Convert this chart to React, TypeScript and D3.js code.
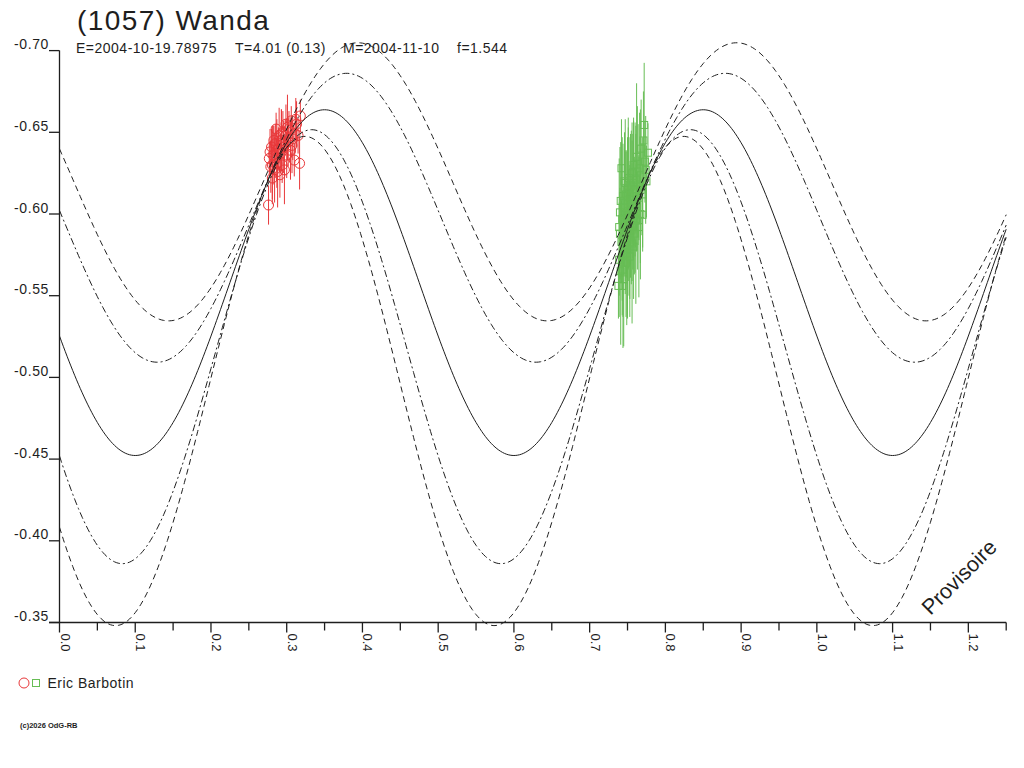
import React from "react";
import * as d3 from "d3";

// ---- Data ----
const title = "(1057) Wanda";
const subtitleParts = ["E=2004-10-19.78975", "T=4.01 (0.13)", "M=2004-11-10", "f=1.544"];
const observer = "Eric Barbotin";
const copyright = "(c)2026 OdG-RB";
const watermark = "Provisoire";

const yTicks = [-0.70, -0.65, -0.60, -0.55, -0.50, -0.45, -0.40, -0.35];
const xMinorTicks = [0, 0.05, 0.1, 0.15, 0.2, 0.25, 0.3, 0.35, 0.4, 0.45, 0.5, 0.55, 0.6, 0.65, 0.7, 0.75, 0.8, 0.85, 0.9, 0.95, 1.0, 1.05, 1.1, 1.15, 1.2, 1.25];
const xLabelTicks = [0, 0.1, 0.2, 0.3, 0.4, 0.5, 0.6, 0.7, 0.8, 0.9, 1.0, 1.1, 1.2];

// model curves (period 0.5 in phase): mean, semi-amplitude, phase of faintest point
const curveNames = ["model", "dashdotUpper", "dashUpper", "dashdotLower", "dashLower"];
const curveMean = [-0.558, -0.5977, -0.6197, -0.5188, -0.4978];
const curveAmp = [0.1058, 0.0884, 0.0851, 0.1328, 0.1497];
const curveMinPhase = [0.100, 0.129, 0.144, 0.083, 0.074];
const curveKind = ["solid", "dashdot", "dash", "dashdot", "dash"];

// red session (circles)
const redPhase = [0.276, 0.277, 0.278, 0.279, 0.280, 0.281, 0.282, 0.283, 0.284, 0.285, 0.286, 0.287, 0.288, 0.289, 0.290, 0.291, 0.292, 0.293, 0.294, 0.295, 0.296, 0.297, 0.298, 0.299, 0.300, 0.302, 0.303, 0.305, 0.306, 0.308, 0.310, 0.311, 0.313, 0.315, 0.317, 0.318, 0.281, 0.287, 0.293, 0.301, 0.307, 0.312];
const redMag = [-0.6055, -0.634, -0.638, -0.629, -0.641, -0.622, -0.636, -0.645, -0.627, -0.643, -0.652, -0.631, -0.626, -0.640, -0.648, -0.624, -0.637, -0.645, -0.630, -0.650, -0.641, -0.627, -0.648, -0.655, -0.636, -0.644, -0.652, -0.639, -0.657, -0.646, -0.633, -0.649, -0.655, -0.648, -0.631, -0.660, -0.630, -0.639, -0.649, -0.653, -0.642, -0.658];
const redErr = [0.012, 0.010, 0.014, 0.016, 0.011, 0.013, 0.018, 0.009, 0.020, 0.012, 0.010, 0.015, 0.022, 0.013, 0.017, 0.014, 0.012, 0.019, 0.011, 0.013, 0.016, 0.021, 0.010, 0.012, 0.014, 0.015, 0.011, 0.018, 0.009, 0.013, 0.010, 0.012, 0.014, 0.011, 0.016, 0.010, 0.024, 0.019, 0.015, 0.020, 0.017, 0.013];

// green session (squares)
const greenPhase = [0.738, 0.739, 0.740, 0.740, 0.741, 0.742, 0.742, 0.743, 0.743, 0.744, 0.744, 0.745, 0.745, 0.746, 0.746, 0.747, 0.747, 0.748, 0.748, 0.749, 0.749, 0.750, 0.750, 0.751, 0.751, 0.752, 0.752, 0.753, 0.753, 0.754, 0.754, 0.755, 0.755, 0.756, 0.756, 0.757, 0.757, 0.758, 0.758, 0.759, 0.760, 0.760, 0.761, 0.762, 0.762, 0.763, 0.764, 0.765, 0.766, 0.767, 0.768, 0.769, 0.770, 0.772, 0.773, 0.775, 0.777, 0.739, 0.741, 0.744, 0.747, 0.749, 0.751, 0.753, 0.756, 0.758, 0.761, 0.763, 0.765, 0.767, 0.770, 0.771, 0.774];
const greenMag = [-0.556, -0.572, -0.588, -0.601, -0.565, -0.628, -0.583, -0.556, -0.597, -0.611, -0.575, -0.590, -0.560, -0.604, -0.620, -0.581, -0.595, -0.612, -0.570, -0.600, -0.587, -0.616, -0.578, -0.594, -0.606, -0.585, -0.622, -0.598, -0.574, -0.609, -0.590, -0.617, -0.583, -0.602, -0.625, -0.593, -0.611, -0.580, -0.630, -0.599, -0.615, -0.588, -0.621, -0.605, -0.635, -0.596, -0.618, -0.610, -0.628, -0.600, -0.640, -0.615, -0.5995, -0.6545, -0.632, -0.620, -0.6375, -0.592, -0.608, -0.566, -0.619, -0.576, -0.613, -0.589, -0.582, -0.619, -0.597, -0.626, -0.592, -0.617, -0.612, -0.645, -0.627];
const greenErr = [0.020, 0.035, 0.028, 0.040, 0.045, 0.030, 0.025, 0.018, 0.050, 0.032, 0.038, 0.027, 0.041, 0.036, 0.030, 0.022, 0.044, 0.026, 0.033, 0.039, 0.024, 0.031, 0.042, 0.028, 0.047, 0.035, 0.025, 0.030, 0.037, 0.040, 0.029, 0.034, 0.026, 0.043, 0.031, 0.027, 0.038, 0.032, 0.029, 0.036, 0.041, 0.024, 0.033, 0.028, 0.045, 0.030, 0.037, 0.026, 0.034, 0.040, 0.030, 0.028, 0.020, 0.038, 0.025, 0.022, 0.018, 0.042, 0.036, 0.048, 0.039, 0.044, 0.046, 0.041, 0.049, 0.038, 0.052, 0.040, 0.043, 0.047, 0.035, 0.030, 0.033];

const RED = "#e8383a";
const GREEN = "#67bd55";
const INK = "#1e1e1e";
const FONT = "'Liberation Sans', Arial, sans-serif";

const fmtY = (v: number) => d3.format(".2f")(v).replace("\u2212", "-");
const fmtX = (v: number) => d3.format(".1f")(v);

export default function App() {
  const x = d3.scaleLinear().domain([0, 1.25]).range([59.5, 1006.2]);
  const y = d3.scaleLinear().domain([-0.70, -0.35]).range([50.6, 622.5]);
  const x0 = x(0);
  const yBottom = y(-0.35);

  const samples = d3.range(0, 1.25 + 1e-9, 0.0025);

  const curvePaths = curveNames.map((name, i) => {
    const gen = d3
      .line<number>()
      .x((p) => x(p))
      .y((p) => y(curveMean[i] + curveAmp[i] * Math.cos((2 * Math.PI * (p - curveMinPhase[i])) / 0.5)));
    return { name, d: gen(samples) || "", kind: curveKind[i] };
  });

  const dashFor = (k: string) => (k === "dash" ? "6,4" : k === "dashdot" ? "7,3,2,3" : undefined);

  const subX = [76, 235, 343, 457];

  return (
    <svg
      width={1024}
      height={768}
      style={{ position: "fixed", left: 0, top: 0, background: "#fff" }}
      fontFamily={FONT}
    >
      <rect x={0} y={0} width={1024} height={768} fill="#fff" />
      {/* title */}
      <text x={77} y={30} fontSize={28} fill={INK} letterSpacing={1.4}>
        {title}
      </text>
      {subtitleParts.map((s, i) => (
        <text key={s} x={subX[i]} y={53} fontSize={14} fill={INK} letterSpacing={0.5}>
          {s}
        </text>
      ))}

      {/* data: red */}
      <g stroke={RED} fill="none" strokeWidth={1}>
        {redPhase.map((p, i) => (
          <line key={"re" + i} x1={x(p)} x2={x(p)} y1={y(redMag[i] - redErr[i])} y2={y(redMag[i] + redErr[i])} />
        ))}
        {redPhase.map((p, i) => (
          <circle key={"rc" + i} cx={x(p)} cy={y(redMag[i])} r={5} />
        ))}
      </g>
      {/* data: green */}
      <g stroke={GREEN} fill="none" strokeWidth={1}>
        {greenPhase.map((p, i) => (
          <line key={"ge" + i} x1={x(p)} x2={x(p)} y1={y(greenMag[i] - greenErr[i])} y2={y(greenMag[i] + greenErr[i])} />
        ))}
        {greenPhase.map((p, i) => (
          <rect key={"gs" + i} x={x(p) - 3.5} y={y(greenMag[i]) - 3.5} width={7} height={7} />
        ))}
      </g>

      {/* model curves */}
      <g fill="none" stroke={INK} strokeWidth={1}>
        {curvePaths.map((c) => (
          <path key={c.name} d={c.d} strokeDasharray={dashFor(c.kind)} />
        ))}
      </g>

      {/* axes */}
      <g stroke={INK} strokeWidth={1.3} fill="none">
        <line x1={x0} x2={x0} y1={y(-0.70)} y2={yBottom} />
        <line x1={49} x2={x(1.25)} y1={yBottom} y2={yBottom} />
        {yTicks.map((t) => (
          <line key={"yt" + t} x1={49} x2={x0} y1={y(t)} y2={y(t)} />
        ))}
        {xMinorTicks.map((t) => (
          <line key={"xt" + t} x1={x(t)} x2={x(t)} y1={yBottom} y2={yBottom + (Math.abs(t * 10 - Math.round(t * 10)) < 1e-6 ? 10 : 8)} />
        ))}
      </g>
      {yTicks.map((t) => (
        <text key={"yl" + t} x={49} y={y(t) - 1.5} fontSize={14} fill={INK} textAnchor="end" letterSpacing={0.6}>
          {fmtY(t)}
        </text>
      ))}
      {xLabelTicks.map((t) => (
        <text
          key={"xl" + t}
          transform={`translate(${x(t) + 1},${yBottom + 11}) rotate(90)`}
          fontSize={13}
          fill={INK}
        >
          {fmtX(t)}
        </text>
      ))}

      {/* watermark */}
      <text
        transform="translate(959,577) rotate(-45)"
        fontSize={21.5}
        fill={INK}
        textAnchor="middle"
        dy="0.35em"
      >
        {watermark}
      </text>

      {/* legend */}
      <circle cx={24} cy={683} r={5} fill="none" stroke={RED} strokeWidth={1} />
      <rect x={32.5} y={679.5} width={7} height={7} fill="none" stroke={GREEN} strokeWidth={1} />
      <text x={47.5} y={688} fontSize={14} fill={INK} letterSpacing={0.5}>
        {observer}
      </text>

      <text x={20} y={727.5} fontSize={7.5} fontWeight="bold" fill={INK}>
        {copyright}
      </text>
    </svg>
  );
}
